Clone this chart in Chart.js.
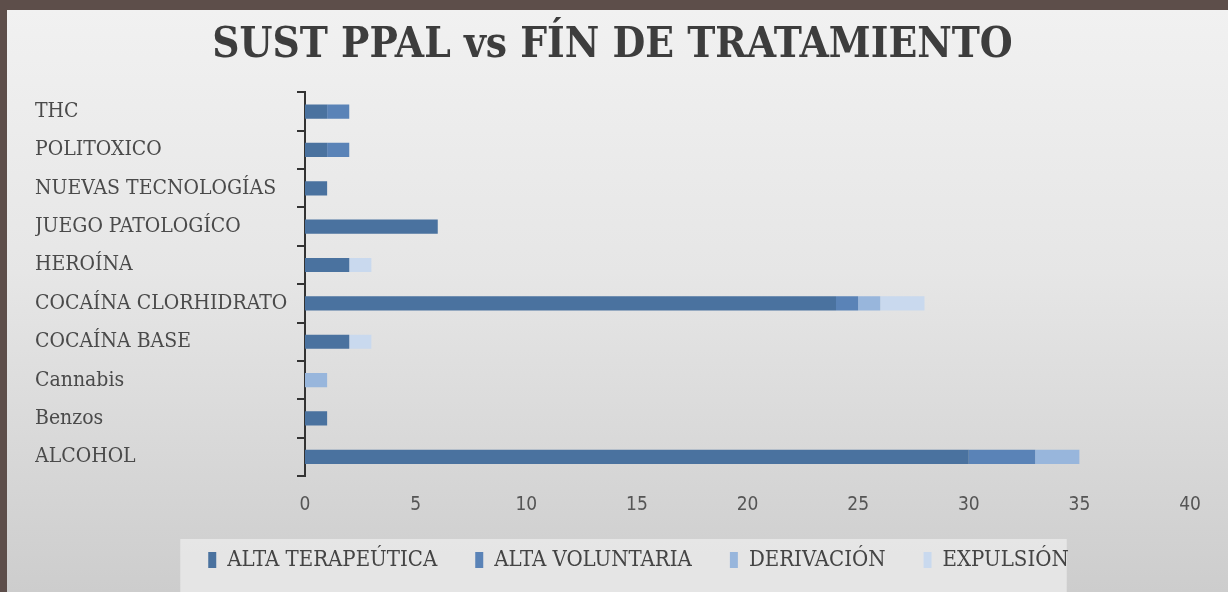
<!DOCTYPE html>
<html>
<head>
<meta charset="utf-8">
<script src="https://cdn.jsdelivr.net/npm/chart.js@4"></script>
<style>
  html, body { margin: 0; padding: 0; }
  body { width: 1228px; height: 592px; background: #5d4e4a; overflow: hidden; }
  #panel {
    position: absolute; left: 7px; top: 10px; width: 1221px; height: 582px;
    background: linear-gradient(180deg, #f1f1f1 0%, #e6e6e6 45%, #cdcdcd 100%);
  }
  #chart { display: block; }
</style>
</head>
<body>
<div id="panel"><canvas id="chart" width="1221" height="582"></canvas></div>
<script>
// categories, top to bottom as in the picture
const categories = [
  "THC", "POLITOXICO", "NUEVAS TECNOLOGÍAS", "JUEGO PATOLOGÍCO", "HEROÍNA",
  "COCAÍNA CLORHIDRATO", "COCAÍNA BASE", "Cannabis", "Benzos", "ALCOHOL"
];

const altaTerapeutica = [1, 1, 1, 6, 2, 24, 2, 0, 1, 30];
const altaVoluntaria  = [1, 1, 0, 0, 0, 1, 0, 0, 0, 3];
const derivacion      = [0, 0, 0, 0, 0, 1, 0, 1, 0, 2];
const expulsion       = [0, 0, 0, 0, 1, 2, 1, 0, 0, 0];

const seriesNames = ["ALTA TERAPEÚTICA", "ALTA VOLUNTARIA", "DERIVACIÓN", "EXPULSIÓN"];
const xMin = 0;
const xMax = 40;
const xStep = 5;

const serifFont = "'DejaVu Serif Condensed', 'DejaVu Serif', serif";
const sansFont = "'DejaVu Sans Condensed', 'DejaVu Sans', sans-serif";

// light band behind the legend items, and nudge legend a bit to the right
const legendBand = {
  id: "legendBand",
  afterLayout(chart) {
    if (!chart.legend) return;
    chart.legend.left += 26;
    chart.legend.right += 26;
  },
  beforeDraw(chart) {
    const legend = chart.legend;
    if (!legend || !legend.legendHitBoxes.length) return;
    const boxes = legend.legendHitBoxes;
    const first = boxes[0];
    const last = boxes[boxes.length - 1];
    const ctx = chart.ctx;
    ctx.save();
    ctx.fillStyle = "rgba(236,236,236,0.75)";
    ctx.fillRect(first.left - 28, first.top - 10, last.left + last.width - first.left + 26, chart.height - first.top + 10);
    ctx.restore();
  }
};

new Chart(document.getElementById("chart"), {
  type: "bar",
  data: {
    labels: categories,
    datasets: [
      { label: seriesNames[0], data: altaTerapeutica, backgroundColor: "#4a729f" },
      { label: seriesNames[1], data: altaVoluntaria, backgroundColor: "#5a83b7" },
      { label: seriesNames[2], data: derivacion, backgroundColor: "#98b6dc" },
      { label: seriesNames[3], data: expulsion, backgroundColor: "#c9d9ee" }
    ]
  },
  options: {
    indexAxis: "y",
    responsive: false,
    animation: false,
    layout: { padding: { left: 28, right: 38, top: 2, bottom: 11 } },
    datasets: {
      bar: { categoryPercentage: 1, barPercentage: 0.37, borderWidth: 0 }
    },
    scales: {
      x: {
        stacked: true,
        min: xMin,
        max: xMax,
        afterFit(scale) { scale.height = 35; },
        grid: { display: false },
        border: { display: false },
        ticks: { stepSize: xStep, padding: 10, color: "#555", font: { family: sansFont, size: 19 } }
      },
      y: {
        stacked: true,
        afterFit(scale) { scale.width = 270; },
        grid: {
          display: true,
          offset: true,
          drawOnChartArea: false,
          drawTicks: true,
          tickLength: 8,
          color: "#333",
          lineWidth: 2
        },
        border: { display: true, color: "#333", width: 2 },
        ticks: {
          crossAlign: "far",
          color: "#4a4a4a",
          font: { family: serifFont, size: 21 }
        }
      }
    },
    plugins: {
      title: {
        display: true,
        text: "SUST PPAL vs FÍN DE TRATAMIENTO",
        color: "#3d3d3d",
        font: { family: serifFont, size: 42, weight: "bold" },
        padding: { top: 9, bottom: 21 }
      },
      legend: {
        position: "bottom",
        labels: {
          boxWidth: 8,
          boxHeight: 16,
          padding: 38,
          color: "#444",
          font: { family: serifFont, size: 22 }
        }
      },
      tooltip: { enabled: false }
    }
  },
  plugins: [legendBand]
});
</script>
</body>
</html>
